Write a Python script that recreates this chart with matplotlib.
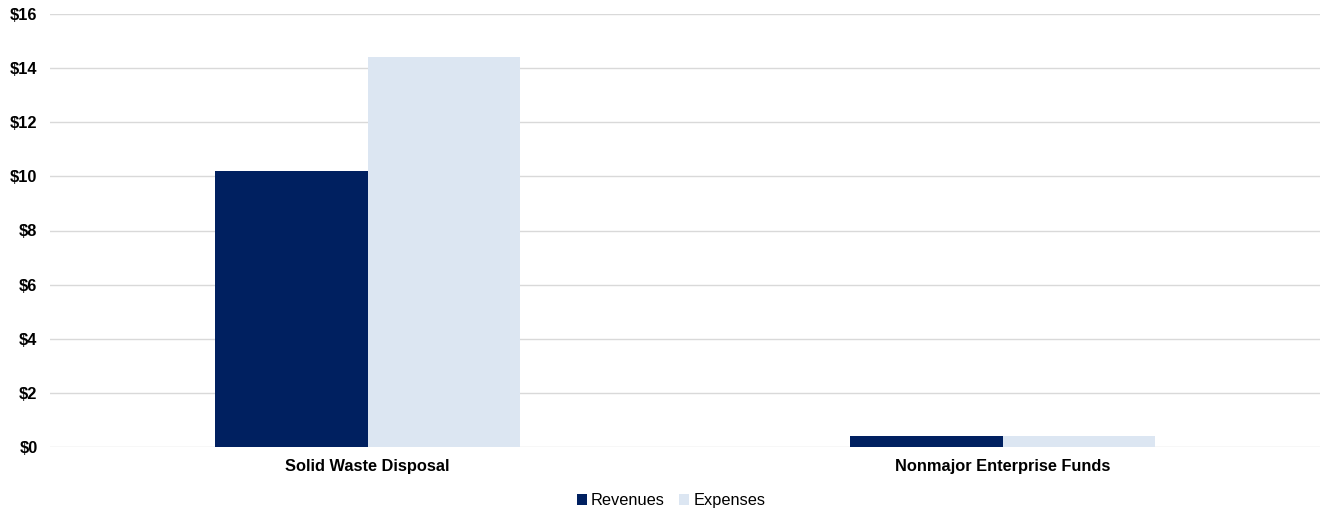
import numpy as np
import matplotlib
matplotlib.use("Agg")
import matplotlib.pyplot as plt

categories = ['Solid Waste Disposal', 'Nonmajor Enterprise Funds']
revenues = [10.2, 0.4]
expenses = [14.4, 0.4]
yticks = np.arange(0, 17, 2)

plt.rcParams['font.family'] = ['Liberation Sans', 'DejaVu Sans']

fig = plt.figure(figsize=(13.22, 5.14), dpi=100, facecolor='white')
ax = fig.add_axes([50/1322, 1 - 447/514, 1270/1322, 433/514])

x = np.arange(len(categories))
w = 0.24
ax.bar(x - w/2, revenues, width=w, color='#002060', label='Revenues', zorder=3)
ax.bar(x + w/2, expenses, width=w, color='#DCE6F2', label='Expenses', zorder=3)

ax.set_xlim(-0.5, 1.5)
ax.set_ylim(0, 16)
ax.set_yticks(yticks)
ax.set_yticklabels(['$' + str(v) for v in yticks], fontweight='bold', fontsize=11.8)
ax.set_xticks(x)
ax.set_xticklabels(categories, fontweight='bold', fontsize=11.8)
ax.tick_params(length=0)
ax.tick_params(axis='y', pad=9)
ax.tick_params(axis='x', pad=9)
ax.grid(axis='y', color='#D9D9D9', linewidth=1, zorder=0)
for s in ax.spines.values():
    s.set_visible(False)

ax.legend(loc='upper center', bbox_to_anchor=(0.489, -0.073), ncol=2, frameon=False,
          fontsize=11.8, handlelength=0.6, handleheight=0.6, handletextpad=0.25,
          columnspacing=0.9)

fig.savefig('out.png', dpi=100)
